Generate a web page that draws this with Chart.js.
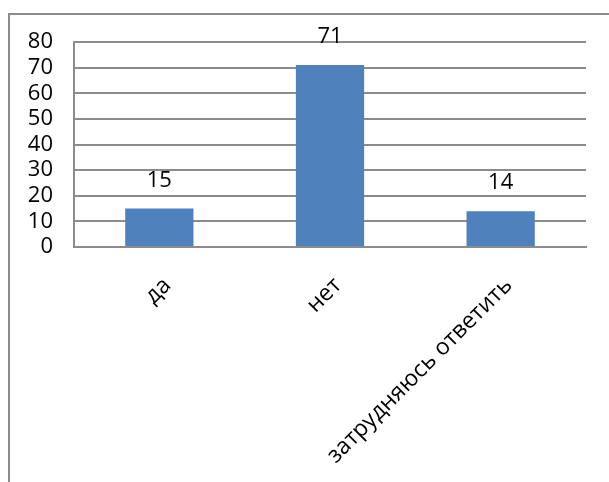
<!DOCTYPE html>
<html>
<head>
<meta charset="utf-8">
<script src="https://cdn.jsdelivr.net/npm/chart.js@4/dist/chart.umd.min.js"></script>
<style>
  html, body { margin: 0; padding: 0; background: #fff; overflow: hidden; }
  #frame { position: absolute; left: 8px; top: 13px; width: 700px; height: 600px;
           border-left: 2px solid #8c8c8c; border-top: 2px solid #8c8c8c; }
  #wrap { position: absolute; left: 0; top: 0; width: 609px; height: 482px; }
</style>
</head>
<body>
<div id="frame"></div>
<div id="wrap"><canvas id="c"></canvas></div>
<script>
// данные опроса
const categories = ["да", "нет", "затрудняюсь ответить"]
const values = [15, 71, 14]
const yTicks = [0, 10, 20, 30, 40, 50, 60, 70, 80]

const FONT = "'Open Sans', 'Noto Sans', sans-serif"

// подписи значений над столбиками
const barLabels = {
  id: "barLabels",
  afterDatasetsDraw(chart) {
    const ctx = chart.ctx
    const meta = chart.getDatasetMeta(0)
    ctx.save()
    ctx.font = "22px " + FONT
    ctx.fillStyle = "#000"
    ctx.textAlign = "center"
    ctx.textBaseline = "middle"
    meta.data.forEach((bar, i) => {
      ctx.fillText(String(values[i]), bar.x, bar.y - 28)
    })
    ctx.restore()
  },
}

new Chart(document.getElementById("c"), {
  type: "bar",
  data: {
    labels: categories,
    datasets: [
      {
        data: values,
        backgroundColor: "#4f81bd",
        barPercentage: 0.4,
        categoryPercentage: 1,
      },
    ],
  },
  options: {
    responsive: true,
    maintainAspectRatio: false,
    animation: false,
    layout: { padding: { top: 42, right: 23, left: 0, bottom: 0 } },
    plugins: { legend: { display: false }, tooltip: { enabled: false } },
    scales: {
      x: {
        grid: { display: false, drawTicks: false },
        border: { display: true, color: "#8c8c8c", width: 2 },
        ticks: {
          color: "#000",
          font: { family: FONT, size: 23 },
          minRotation: 45,
          maxRotation: 45,
          labelOffset: 8,
          padding: 25,
        },
        afterFit: (scale) => { scale.height = 235 },
      },
      y: {
        min: 0,
        max: 80,
        afterBuildTicks: (scale) => { scale.ticks = yTicks.map((v) => ({ value: v })) },
        grid: { color: "#8c8c8c", lineWidth: 2, drawTicks: false },
        border: { display: true, color: "#8c8c8c", width: 2 },
        ticks: {
          color: "#000",
          font: { family: FONT, size: 22 },
          padding: 21,
          autoSkip: false,
        },
        afterFit: (scale) => { scale.width = 74 },
      },
    },
  },
  plugins: [barLabels],
})
</script>
</body>
</html>
